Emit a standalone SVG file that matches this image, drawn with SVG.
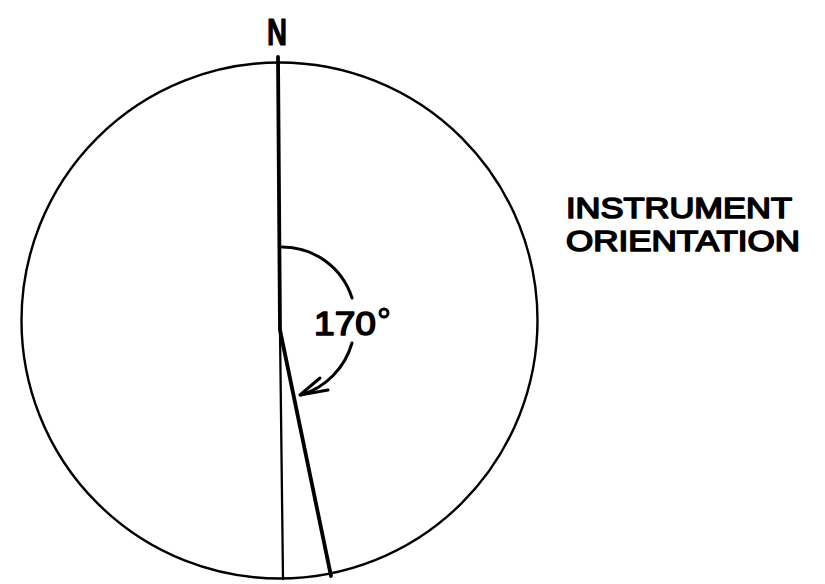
<svg xmlns="http://www.w3.org/2000/svg" width="825" height="584" viewBox="0 0 825 584">
<style>
.ln{fill:none;stroke:#000;stroke-linecap:round;stroke-linejoin:round}
.lbl{font-family:"Liberation Sans",Arial,sans-serif;fill:#000;stroke:#000;stroke-linejoin:round}
</style>
<rect width="825" height="584" fill="#fff"/>
<g id="compass">
<circle class="ln" cx="279.5" cy="320.5" r="258" stroke-width="2.4"/>
</g>
<g id="connectors">
<polyline class="ln" points="278,57 280,330 331,576" stroke-width="3.8"/>
<line class="ln" x1="280" y1="330" x2="283" y2="579" stroke-width="2.3"/>
<path class="ln" d="M282,247 A73,73 0 0 1 352,298" stroke-width="3"/>
<path class="ln" d="M352,343 A76,76 0 0 1 301,395" stroke-width="3"/>
<path class="ln" d="M320,378 L300,395 L328,390" stroke-width="3"/>
</g>
<g id="north">
<text class="lbl" transform="translate(277,45) scale(0.75,1)" text-anchor="middle" font-size="37" font-weight="bold" stroke-width="1">N</text>
</g>
<g id="angle">
<text class="lbl" x="314" y="335" font-size="34" stroke-width="1.6" textLength="62" lengthAdjust="spacingAndGlyphs">170</text>
<circle cx="384" cy="313" r="4" fill="none" stroke="#000" stroke-width="3"/>
</g>
<g id="label">
<text class="lbl" x="566" y="217.5" font-size="29" stroke-width="1.6" textLength="226" lengthAdjust="spacingAndGlyphs">INSTRUMENT</text>
<text class="lbl" x="566" y="250.5" font-size="29" stroke-width="1.6" textLength="234" lengthAdjust="spacingAndGlyphs">ORIENTATION</text>
</g>
</svg>
